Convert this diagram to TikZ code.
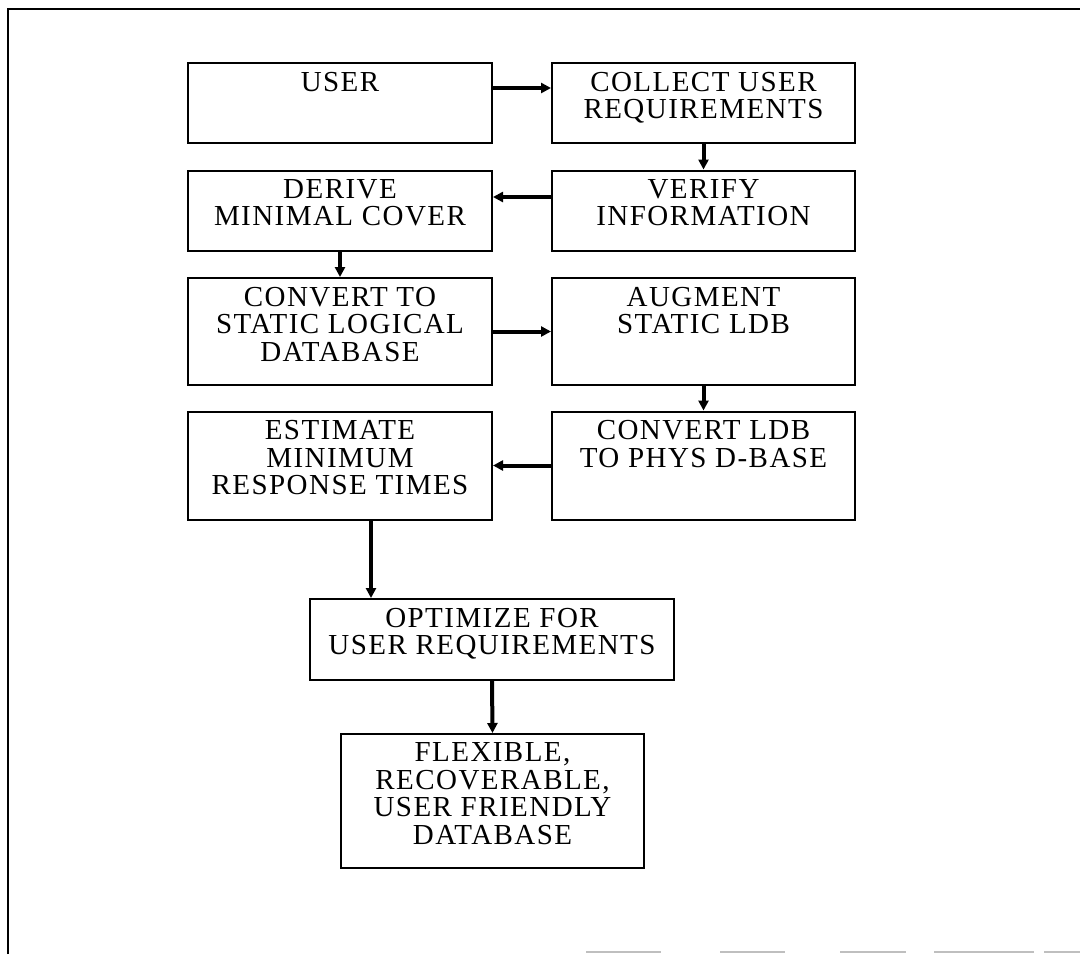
\documentclass[tikz,border=0pt]{standalone}
\usepackage{fontspec}
\setmainfont{Liberation Serif}[LetterSpace=5]
\usetikzlibrary{arrows.meta}
\begin{document}
\begin{tikzpicture}[x=0.5pt,y=-0.5pt,
  box/.style={draw, line width=1pt, inner sep=0pt},
  lbl/.style={anchor=north, inner sep=0pt, align=center,
    font=\fontsize{14.5}{13.75}\selectfont},
  arr/.style={line width=2pt, -{Triangle[length=5pt,width=5pt]}},
  frame/.style={line width=1pt},
  faint/.style={line width=1pt, black!25}]
\useasboundingbox (0,0) rectangle (1080,954);
% frame
\draw[frame] (8,954) -- (8,9) -- (1080,9);
\draw[faint] (586,952) -- (661,952) (720,952) -- (785,952) (840,952) -- (906,952)
  (934,952) -- (1034,952) (1044,952) -- (1080,952);
% boxes
\node[box, minimum width=152pt, minimum height=40pt] (user) at (340,103) {};
\node[box, minimum width=151.5pt, minimum height=40pt] (collect) at (703.5,103) {};
\node[box, minimum width=152pt, minimum height=40pt] (derive) at (340,210.5) {};
\node[box, minimum width=151.5pt, minimum height=40pt] (verify) at (703.5,210.5) {};
\node[box, minimum width=152pt, minimum height=53.5pt] (convert) at (340,331.5) {};
\node[box, minimum width=151.5pt, minimum height=53.5pt] (augment) at (703.5,331.5) {};
\node[box, minimum width=152pt, minimum height=54pt] (estimate) at (340,465.5) {};
\node[box, minimum width=151.5pt, minimum height=54pt] (cldb) at (703.5,465.5) {};
\node[box, minimum width=182pt, minimum height=40.5pt] (optimize) at (492,639.5) {};
\node[box, minimum width=151.5pt, minimum height=67pt] (flexible) at (492.5,801) {};
% texts
\node[lbl] (tuser) at ([yshift=-4.75pt]user.north) {USER};
\node[lbl] (tcollect) at ([yshift=-4.75pt]collect.north) {COLLECT USER\\REQUIREMENTS};
\node[lbl] (tderive) at ([yshift=-4.75pt]derive.north) {DERIVE\\MINIMAL COVER};
\node[lbl] (tverify) at ([yshift=-4.75pt]verify.north) {VERIFY\\INFORMATION};
\node[lbl] (tconvert) at ([yshift=-4.75pt]convert.north) {CONVERT TO\\STATIC LOGICAL\\DATABASE};
\node[lbl] (taugment) at ([yshift=-4.75pt]augment.north) {AUGMENT\\STATIC LDB};
\node[lbl] (testimate) at ([yshift=-4.75pt]estimate.north) {ESTIMATE\\MINIMUM\\RESPONSE TIMES};
\node[lbl] (tcldb) at ([yshift=-4.75pt]cldb.north) {CONVERT LDB\\TO PHYS D-BASE};
\node[lbl] (toptimize) at ([yshift=-4.75pt]optimize.north) {OPTIMIZE FOR\\USER REQUIREMENTS};
\node[lbl] (tflexible) at ([yshift=-4.75pt]flexible.north) {FLEXIBLE,\\RECOVERABLE,\\USER FRIENDLY\\DATABASE};
% connectors
\coordinate (p1) at ([yshift=7.5pt]user.east);
\draw[arr] (p1) -- (p1 -| collect.west);
\draw[arr] (collect.south) -- (verify.north);
\coordinate (p3) at ([yshift=6.75pt]verify.west);
\draw[arr] (p3) -- (p3 -| derive.east);
\draw[arr] (derive.south) -- (convert.north);
\draw[arr] (convert.east) -- (augment.west);
\draw[arr] (augment.south) -- (cldb.north);
\draw[arr] (cldb.west) -- (estimate.east);
\coordinate (p8) at ([xshift=15.5pt]estimate.south);
\draw[arr] (p8) -- (p8 |- optimize.north);
\draw[arr] (optimize.south) -- (flexible.north);
\end{tikzpicture}
\end{document}
